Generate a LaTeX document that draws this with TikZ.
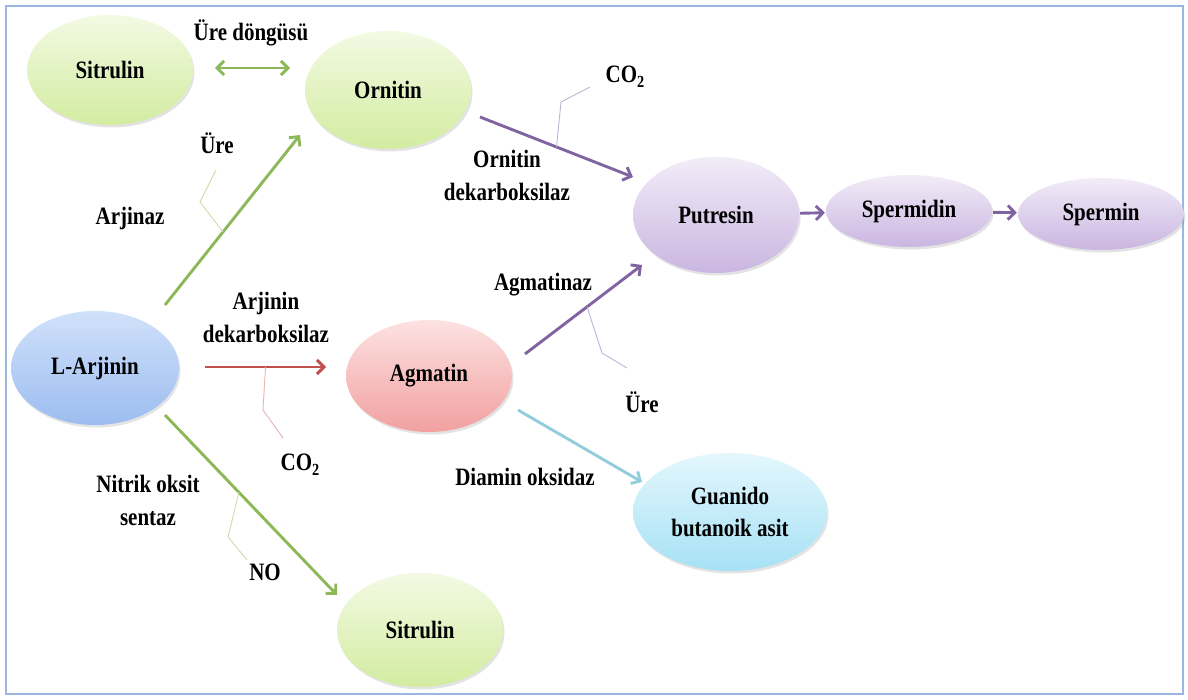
\documentclass[tikz,border=0pt]{standalone}
\usepackage{fontspec}
\setmainfont{Liberation Serif}[FakeStretch=0.84]
\usetikzlibrary{arrows.meta,shadows,shapes.geometric,calc}
\definecolor{frameC}{HTML}{9BB7E0}
\definecolor{gTop}{HTML}{F3FAE4}\definecolor{gBot}{HTML}{D2ECA0}
\definecolor{bTop}{HTML}{D0E1FA}\definecolor{bBot}{HTML}{9CBDF0}
\definecolor{rTop}{HTML}{FDE2E2}\definecolor{rBot}{HTML}{F2A0A0}
\definecolor{pTop}{HTML}{F2ECF8}\definecolor{pBot}{HTML}{CAB6E1}
\definecolor{cTop}{HTML}{E4F7FD}\definecolor{cBot}{HTML}{A6E1F5}
\definecolor{gA}{HTML}{8DB858}\definecolor{rA}{HTML}{C0504D}
\definecolor{pA}{HTML}{8064A2}\definecolor{cA}{HTML}{92CDDC}
\definecolor{gS}{HTML}{C8DFA8}\definecolor{rS}{HTML}{E9B3B1}
\definecolor{pS}{HTML}{C0B2D6}
\newcommand{\cotwo}{CO\raisebox{-5pt}{\fontsize{17}{17}\selectfont 2}}
\tikzset{
  blob/.style={ellipse, inner sep=0pt, align=center,
    font=\fontsize{25}{32}\selectfont\bfseries,
    drop shadow={opacity=0.22, shadow xshift=1.5pt, shadow yshift=-2.5pt}},
  gblob/.style={blob, top color=gTop, bottom color=gBot},
  bblob/.style={blob, top color=bTop, bottom color=bBot},
  rblob/.style={blob, top color=rTop, bottom color=rBot},
  pblob/.style={blob, top color=pTop, bottom color=pBot},
  cblob/.style={blob, top color=cTop, bottom color=cBot},
  lbl/.style={inner sep=0pt, align=center, font=\fontsize{25}{33}\selectfont\bfseries},
  conn/.style={line width=2.9pt, -{Straight Barb[length=7pt,width=14pt]}},
  side/.style={line width=0.9pt}
}
\begin{document}
\begin{tikzpicture}[x=1pt,y=-1pt]
\useasboundingbox (0,0) rectangle (1188,700);
\draw[frameC, line width=1.6pt] (6,6) rectangle (1183,694);
% nodes
\node[gblob, minimum width=166pt, minimum height=110pt] (sit1) at (110,70) {Sitrulin};
\node[gblob, minimum width=166pt, minimum height=118pt] (orn) at (388,90) {Ornitin};
\node[bblob, minimum width=168pt, minimum height=114pt] (larj) at (95,368) {L-Arjinin};
\node[rblob, minimum width=166pt, minimum height=112pt] (agm) at (429,376) {Agmatin};
\node[pblob, minimum width=166pt, minimum height=116pt] (put) at (716,215) {Putresin};
\node[pblob, minimum width=166pt, minimum height=72pt] (spd) at (909,211) {Spermidin};
\node[pblob, minimum width=166pt, minimum height=72pt] (spm) at (1101,214) {Spermin};
\node[cblob, minimum width=194pt, minimum height=118pt] (gua) at (730,512) {Guanido\\butanoik asit};
\node[gblob, minimum width=166pt, minimum height=114pt] (sit2) at (420,630) {Sitrulin};
% labels
\node[lbl] (l1) at (251,33) {Üre döngüsü};
\node[lbl] (l2) at (217,143) {Üre};
\node[lbl] (l3) at (130,218) {Arjinaz};
\node[lbl] (l4) at (266,317) {Arjinin\\dekarboksilaz};
\node[lbl] (l5) at (300,465) {\cotwo};
\node[lbl] (l6) at (507,175) {Ornitin\\dekarboksilaz};
\node[lbl] (l7) at (625,77) {\cotwo};
\node[lbl] (l8) at (543,285) {Agmatinaz};
\node[lbl] (l9) at (642,402) {Üre};
\node[lbl] (l10) at (525,477) {Diamin oksidaz};
\node[lbl] (l11) at (148,500) {Nitrik oksit\\sentaz};
\node[lbl] (l12) at (265,572) {NO};
% arrow end points
\coordinate (d1) at (215,68); \coordinate (d2) at (290,68);
\coordinate (a1s) at (165,305); \coordinate (a1e) at (300,135);
\coordinate (a2s) at (205,367); \coordinate (a2e) at (326,367);
\coordinate (a3s) at (165,415); \coordinate (a3e) at (337,595);
\coordinate (a4s) at (480,117); \coordinate (a4e) at (633,177);
\coordinate (a5s) at (525,354); \coordinate (a5e) at (642,265);
\coordinate (a6s) at (518,410); \coordinate (a6e) at (642,482);
% connectors
\draw[gA, line width=2.9pt, {Straight Barb[length=7pt,width=14pt]}-{Straight Barb[length=7pt,width=14pt]}] (d1) -- (d2);
\draw[conn, gA] (a1s) -- (a1e);
\draw[conn, rA] (a2s) -- (a2e);
\draw[conn, gA] (a3s) -- (a3e);
\draw[conn, pA] (a4s) -- (a4e);
\draw[conn, pA] (a5s) -- (a5e);
\draw[conn, cA] (a6s) -- (a6e);
\draw[conn, pA, shorten <=1pt, shorten >=1pt] (put) -- (spd);
\draw[conn, pA, shorten <=1pt, shorten >=1pt] (spd) -- (spm);
% side branches
\coordinate (j1) at ($(a1s)!0.43!(a1e)$);
\coordinate (j2) at ($(a2s)!0.5!(a2e)$);
\coordinate (j3) at ($(a3s)!0.43!(a3e)$);
\coordinate (j4) at ($(a4s)!0.50!(a4e)$);
\coordinate (j5) at ($(a5s)!0.53!(a5e)$);
\draw[side, gS] (j1) -- (200,202) -- (216,170);
\draw[side, rS] (j2) -- (263,410) -- (283,438);
\draw[side, gS] (j3) -- (228,537) -- (247,560);
\draw[side, pS] (j4) -- (561,102) -- (590,87);
\draw[side, pS] (j5) -- (602,353) -- (627,368);
\end{tikzpicture}
\end{document}
